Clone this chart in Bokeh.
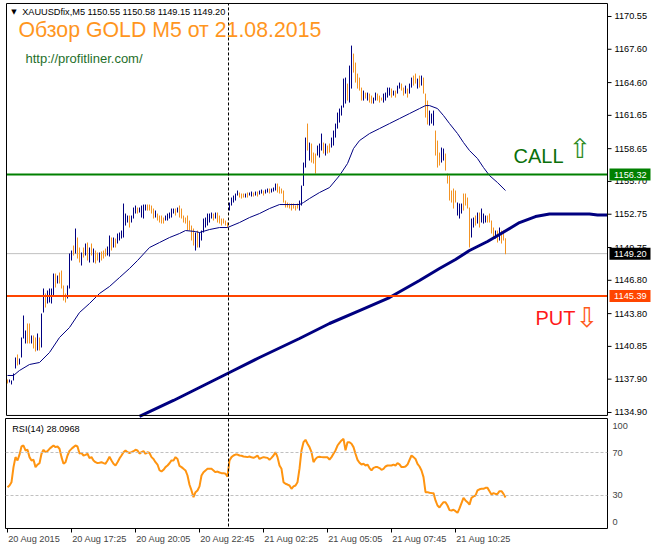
from bokeh.plotting import figure
from bokeh.models import Range1d, FixedTicker, Span, Label, ColumnDataSource
from bokeh.layouts import column
from bokeh.core.properties import value
from bokeh.embed import file_html
from bokeh.resources import INLINE

# ---------------- data ----------------
symbol = "XAUUSDfix,M5"
last_quote = [1150.55, 1150.58, 1149.15, 1149.20]  # O H L C of the last bar
chart_title = "Обзор GOLD M5 от 21.08.2015"
site_url = "http://profitliner.com/"
call_text = "CALL"
put_text = "PUT"

bar_high = [
    1137.87, 1137.87, 1137.78, 1138.41, 1139.85, 1140.12, 1139.76, 1141.65, 1143.63, 1142.28,
    1142.91, 1142.91, 1141.83, 1141.83, 1141.65, 1142.01, 1141.65, 1143.81, 1146.06, 1145.61,
    1145.88, 1146.06, 1146.06, 1147.41, 1147.41, 1147.23, 1147.50, 1147.68, 1146.33, 1145.61,
    1146.33, 1149.21, 1149.48, 1149.93, 1151.46, 1150.65, 1149.75, 1149.30, 1149.75, 1150.11,
    1150.20, 1149.75, 1150.11, 1149.66, 1149.48, 1149.30, 1149.30, 1149.39, 1149.48, 1149.66,
    1149.84, 1150.83, 1150.65, 1150.65, 1150.56, 1151.01, 1151.10, 1151.28, 1153.71, 1152.81,
    1152.63, 1152.63, 1152.63, 1153.35, 1153.53, 1153.35, 1153.35, 1153.53, 1153.62, 1153.62,
    1153.62, 1153.62, 1153.53, 1153.26, 1153.08, 1152.81, 1152.63, 1152.63, 1152.45, 1152.63,
    1152.81, 1152.90, 1153.26, 1153.26, 1153.26, 1153.35, 1153.53, 1153.26, 1152.63, 1152.45,
    1152.63, 1152.18, 1151.73, 1151.46, 1151.10, 1151.28, 1151.10, 1151.28, 1152.36, 1152.45,
    1152.81, 1152.81, 1152.90, 1152.81, 1152.90, 1152.90, 1152.63, 1152.36, 1152.36, 1152.18,
    1152.00, 1153.80, 1154.25, 1154.43, 1154.61, 1154.88, 1154.70, 1154.61, 1154.61, 1154.61,
    1154.70, 1154.70, 1154.79, 1154.70, 1154.79, 1154.79, 1154.88, 1154.97, 1154.88, 1154.97,
    1155.06, 1155.06, 1155.06, 1155.15, 1155.51, 1155.51, 1155.24, 1155.06, 1154.88, 1153.98,
    1153.80, 1153.71, 1153.71, 1153.71, 1153.53, 1153.71, 1153.98, 1155.33, 1157.40, 1159.65,
    1160.91, 1159.20, 1159.11, 1158.30, 1158.21, 1158.93, 1159.11, 1160.01, 1159.20, 1159.11,
    1158.93, 1159.11, 1159.65, 1160.28, 1160.91, 1161.90, 1162.26, 1162.53, 1164.96, 1165.05,
    1164.51, 1166.13, 1167.93, 1167.21, 1166.40, 1165.41, 1165.05, 1164.15, 1163.88, 1163.70,
    1163.70, 1163.61, 1163.43, 1163.25, 1163.70, 1163.61, 1163.43, 1163.25, 1163.61, 1163.70,
    1164.15, 1164.15, 1164.06, 1163.88, 1163.88, 1164.33, 1164.60, 1164.51, 1164.15, 1164.33,
    1164.06, 1164.51, 1165.05, 1165.23, 1165.41, 1164.96, 1165.23, 1165.23, 1165.05, 1163.61,
    1162.98, 1162.08, 1161.81, 1162.08, 1160.28, 1159.38, 1158.30, 1158.75, 1158.66, 1158.21,
    1156.41, 1156.23, 1154.88, 1155.06, 1154.88, 1153.80, 1153.71, 1153.71, 1154.61, 1154.61,
    1154.25, 1153.35, 1152.36, 1152.45, 1152.63, 1152.90, 1152.90, 1153.26, 1152.81, 1152.63,
    1152.63, 1152.81, 1152.18, 1151.55, 1151.28, 1151.28, 1151.55, 1151.28, 1151.28, 1150.58,
]
bar_low = [
    1137.51, 1137.60, 1137.42, 1137.78, 1138.86, 1139.13, 1139.22, 1139.85, 1141.56, 1141.11,
    1141.11, 1141.11, 1141.11, 1140.66, 1140.39, 1140.48, 1140.48, 1140.75, 1143.90, 1144.35,
    1144.71, 1144.80, 1144.71, 1145.43, 1146.15, 1146.51, 1146.51, 1146.06, 1144.98, 1144.80,
    1145.16, 1146.06, 1148.58, 1149.03, 1149.21, 1148.76, 1148.40, 1148.13, 1148.85, 1149.03,
    1148.58, 1148.40, 1149.03, 1148.40, 1148.31, 1148.58, 1148.40, 1148.58, 1148.76, 1148.94,
    1149.03, 1148.94, 1149.48, 1149.75, 1149.75, 1150.11, 1150.38, 1150.56, 1150.65, 1151.73,
    1152.00, 1151.55, 1152.00, 1152.36, 1152.81, 1152.81, 1152.90, 1152.45, 1152.36, 1153.08,
    1153.08, 1153.08, 1152.81, 1152.36, 1152.45, 1152.18, 1152.00, 1151.91, 1151.91, 1152.18,
    1152.18, 1152.36, 1152.45, 1152.81, 1152.63, 1152.90, 1152.45, 1152.36, 1152.00, 1151.91,
    1151.28, 1151.28, 1150.38, 1149.93, 1149.48, 1149.75, 1149.75, 1150.38, 1151.10, 1151.55,
    1151.73, 1152.00, 1152.36, 1152.18, 1152.36, 1152.00, 1151.91, 1151.73, 1151.91, 1151.73,
    1151.55, 1153.08, 1153.53, 1153.80, 1153.98, 1154.43, 1154.25, 1154.16, 1154.25, 1154.25,
    1154.25, 1154.43, 1154.34, 1154.34, 1154.43, 1154.34, 1154.52, 1154.61, 1154.43, 1154.61,
    1154.70, 1154.61, 1154.70, 1154.79, 1154.88, 1154.70, 1154.61, 1154.61, 1153.80, 1153.35,
    1153.35, 1153.26, 1153.08, 1153.26, 1153.08, 1153.26, 1153.08, 1153.53, 1155.30, 1156.95,
    1158.48, 1157.58, 1157.40, 1157.31, 1156.41, 1158.03, 1157.85, 1158.48, 1158.21, 1158.03,
    1158.21, 1158.30, 1158.75, 1158.93, 1159.65, 1160.46, 1161.00, 1161.63, 1162.35, 1162.71,
    1162.98, 1162.80, 1164.06, 1165.50, 1164.60, 1164.06, 1163.88, 1162.98, 1162.98, 1163.16,
    1162.98, 1162.80, 1162.71, 1162.71, 1162.98, 1162.98, 1162.80, 1162.98, 1162.80, 1162.98,
    1163.25, 1163.43, 1163.25, 1163.43, 1163.25, 1163.61, 1164.06, 1163.88, 1163.43, 1163.61,
    1163.25, 1163.61, 1164.15, 1164.33, 1164.51, 1164.06, 1164.15, 1164.33, 1163.61, 1161.45,
    1160.82, 1160.73, 1160.91, 1160.73, 1158.03, 1156.95, 1157.13, 1157.40, 1157.58, 1156.68,
    1155.51, 1153.98, 1153.80, 1153.26, 1153.80, 1152.63, 1152.36, 1152.81, 1153.08, 1153.53,
    1153.26, 1149.75, 1150.65, 1151.55, 1151.73, 1151.91, 1151.55, 1152.00, 1151.91, 1152.00,
    1152.00, 1152.00, 1151.01, 1150.65, 1150.56, 1150.20, 1150.38, 1150.11, 1150.38, 1149.15,
]
bar_bull = [
    0, 1, 1, 1, 1, 0, 1, 1, 1, 1,
    0, 0, 1, 0, 0, 1, 0, 1, 1, 0,
    1, 1, 1, 1, 0, 1, 0, 0, 0, 0,
    1, 1, 1, 0, 1, 0, 0, 1, 0, 1,
    0, 1, 0, 1, 0, 0, 1, 0, 0, 0,
    1, 1, 0, 1, 0, 1, 1, 1, 1, 1,
    1, 0, 1, 1, 1, 0, 1, 1, 1, 1,
    0, 0, 0, 0, 1, 0, 0, 0, 0, 1,
    1, 1, 1, 1, 0, 1, 0, 0, 0, 0,
    0, 0, 0, 0, 1, 0, 1, 1, 1, 1,
    1, 1, 1, 0, 1, 0, 0, 0, 0, 0,
    0, 1, 1, 1, 1, 1, 0, 0, 0, 1,
    0, 1, 1, 0, 1, 0, 1, 1, 0, 1,
    1, 0, 1, 1, 1, 0, 0, 0, 0, 0,
    0, 0, 0, 0, 0, 0, 1, 1, 1, 1,
    0, 1, 0, 0, 0, 1, 1, 1, 0, 1,
    0, 0, 1, 1, 1, 1, 1, 1, 1, 1,
    0, 1, 1, 0, 0, 0, 0, 0, 1, 0,
    1, 0, 0, 1, 1, 0, 0, 0, 1, 1,
    1, 1, 0, 1, 0, 1, 1, 0, 0, 1,
    0, 1, 1, 0, 0, 1, 0, 1, 0, 0,
    0, 1, 1, 1, 0, 0, 0, 1, 1, 0,
    0, 0, 0, 0, 0, 1, 1, 1, 0, 0,
    0, 0, 1, 1, 0, 1, 0, 1, 1, 1,
    0, 0, 0, 0, 1, 0, 1, 0, 0, 0,
]

# thin moving average (bar index, price)
ma_fast_index = [0, 3, 6, 11, 16, 21, 26, 31, 36, 41, 46, 51, 56, 61, 65, 71, 76, 81, 86, 89,
                 94, 96, 101, 106, 110, 116, 121, 126, 131, 136, 141, 146, 148, 151, 156, 161,
                 166, 170, 173, 176, 181, 186, 191, 196, 201, 206, 209, 211, 215, 218, 221,
                 225, 228, 231, 235, 238, 241, 245, 249]
ma_fast_price = [1138.23, 1138.23, 1138.68, 1139.22, 1139.40, 1140.30, 1141.65, 1142.55, 1143.90,
                 1144.71, 1145.61, 1146.24, 1147.05, 1147.86, 1148.58, 1149.75, 1150.20, 1150.65,
                 1151.01, 1151.28, 1151.19, 1151.10, 1151.37, 1151.55, 1151.55, 1152.00, 1152.45,
                 1152.81, 1153.26, 1153.62, 1153.62, 1153.62, 1153.80, 1154.16, 1154.70, 1155.15,
                 1156.23, 1157.31, 1158.66, 1159.38, 1160.01, 1160.46, 1160.91, 1161.36, 1161.81,
                 1162.26, 1162.53, 1162.53, 1162.26, 1161.63, 1160.91, 1160.01, 1159.20, 1158.48,
                 1157.76, 1156.95, 1156.23, 1155.60, 1154.88]

# thick (forward-shifted) moving average
ma_slow_index = [66, 83, 96, 111, 126, 146, 161, 176, 191, 206, 216, 224, 231, 240, 246,
                 256, 264, 271, 291, 295, 300]
ma_slow_price = [1134.54, 1135.98, 1137.15, 1138.50, 1139.85, 1141.56, 1142.91, 1144.08,
                 1145.25, 1146.78, 1147.86, 1148.67, 1149.48, 1150.29, 1150.92, 1152.00,
                 1152.54, 1152.77, 1152.77, 1152.68, 1152.68]

rsi_period = 14
rsi_values = [
    37.7, 39.3, 42.4, 56.4, 65.7, 62.6, 68.0, 75.6, 76.5, 71.9,
    72.5, 65.7, 62.6, 63.2, 56.4, 58.8, 60.0, 68.8, 72.5, 70.3,
    71.2, 73.4, 75.0, 76.5, 75.0, 75.6, 73.5, 65.7, 59.5, 61.0,
    67.2, 71.5, 73.4, 75.0, 76.5, 75.6, 69.0, 69.4, 67.2, 67.8,
    68.8, 64.8, 65.7, 62.6, 61.0, 60.1, 60.5, 61.0, 60.1, 59.5,
    62.6, 66.0, 62.6, 59.5, 57.9, 61.0, 64.5, 67.2, 70.3, 71.9,
    70.3, 69.5, 70.3, 71.2, 72.5, 71.9, 69.0, 70.3, 71.2, 68.8,
    70.3, 69.5, 65.7, 64.0, 61.0, 58.8, 53.5, 52.3, 53.9, 56.4,
    57.9, 60.0, 62.6, 62.6, 65.7, 64.0, 57.5, 56.4, 54.8, 53.3,
    48.6, 40.0, 34.7, 28.5, 33.1, 34.7, 38.5, 48.6, 51.7, 53.3,
    54.8, 55.0, 54.8, 53.3, 51.7, 52.3, 51.4, 50.8, 50.8, 50.2,
    47.5, 62.6, 65.7, 67.2, 68.1, 68.1, 67.2, 67.0, 66.3, 66.0,
    65.7, 66.3, 65.5, 65.0, 66.0, 67.2, 64.0, 65.0, 65.7, 65.3,
    65.0, 63.2, 65.0, 67.2, 70.3, 65.7, 57.9, 54.8, 42.4, 40.9,
    40.2, 39.3, 36.2, 38.4, 39.3, 42.4, 55.0, 71.9, 79.6, 81.8,
    78.1, 75.0, 70.3, 61.0, 64.0, 65.7, 66.0, 65.7, 65.5, 65.7,
    65.5, 63.5, 65.7, 68.8, 71.9, 76.5, 79.0, 81.2, 82.7, 72.0,
    79.6, 79.6, 78.1, 75.0, 68.8, 63.2, 60.5, 58.8, 59.5, 57.9,
    58.8, 55.5, 53.3, 55.7, 56.4, 56.4, 55.5, 53.9, 54.8, 57.0,
    57.9, 58.0, 57.9, 58.8, 57.9, 60.1, 59.0, 56.4, 56.4, 57.0,
    58.8, 63.0, 67.2, 65.7, 64.0, 59.5, 57.0, 53.3, 47.1, 33.1,
    33.1, 32.5, 32.3, 32.2, 25.4, 20.7, 18.8, 21.6, 23.8, 23.8,
    20.7, 16.4, 16.0, 16.7, 15.4, 13.9, 18.0, 22.9, 27.8, 25.4,
    23.8, 21.5, 27.8, 29.1, 30.0, 34.7, 35.8, 36.2, 36.2, 37.1,
    37.1, 34.0, 30.9, 32.2, 31.5, 31.5, 34.0, 34.0, 31.5, 28.0968,
]
rsi_levels = [70, 30]

call_level = 1156.32
put_level = 1145.39
bid_price = 1149.20
day_start_index = 111

price_ticks = [1170.55, 1167.60, 1164.60, 1161.65, 1158.65, 1155.70, 1152.75,
               1149.75, 1146.80, 1143.80, 1140.85, 1137.90, 1134.90]
price_tick_labels = ["1170.55", "1167.60", "1164.60", "1161.65", "1158.65", "1155.70", "1152.75",
                     "1149.75", "1146.80", "1143.80", "1140.85", "1137.90", "1134.90"]
time_tick_index = [0, 32, 64, 96, 128, 160, 192, 224]
time_tick_labels = ["20 Aug 2015", "20 Aug 17:25", "20 Aug 20:05", "20 Aug 22:45",
                    "21 Aug 02:25", "21 Aug 05:05", "21 Aug 07:45", "21 Aug 10:25"]
rsi_tick_labels = ["100", "70", "30", "0"]

# ---------------- styling / layout constants ----------------
NAVY = "#000080"
BAR_ORANGE = "#f39323"
RSI_ORANGE = "#ff9410"
TITLE_ORANGE = "#ff961e"
FONT = "Liberation Sans"
SMALL = "9.2px"

chart_left = -0.5        # left border of the chart area (bar units)
chart_right = 300.0      # price-axis line (bar units)
price_top = 1171.72      # top border of the price panel
price_bottom = 1134.63   # bottom border of the price panel

n = len(bar_high)
idx = list(range(n))
src = ColumnDataSource(dict(
    x=idx, hi=bar_high, lo=bar_low,
    color=[NAVY if b else BAR_ORANGE for b in bar_bull],
))

# ---------------- price panel ----------------
p1 = figure(frame_width=649, frame_height=418, min_border_left=5, min_border_right=0,
            min_border_top=0, min_border_bottom=0,
            x_range=Range1d(-1.0, 323.5), y_range=Range1d(1134.357, 1171.99),
            x_axis_location=None, y_axis_location=None,
            output_backend="svg", toolbar_location=None)
p1.grid.visible = False
p1.outline_line_color = None
p1.background_fill_color = "white"
p1.border_fill_color = "white"

# bid line behind bars
p1.segment(x0=[chart_left], y0=[bid_price], x1=[chart_right], y1=[bid_price],
           line_color="#c0c0c0", line_width=1)

p1.segment(x0="x", y0="lo", x1="x", y1="hi", line_color="color", line_width=1, source=src)
p1.line(ma_fast_index, ma_fast_price, line_color=NAVY, line_width=1)
p1.line(ma_slow_index, ma_slow_price, line_color=NAVY, line_width=3)

# CALL / PUT levels
p1.segment(x0=[chart_left, chart_left], y0=[call_level, put_level],
           x1=[chart_right, chart_right], y1=[call_level, put_level],
           line_color=["#008000", "#ff4500"], line_width=2)

# day separator
p1.segment(x0=[day_start_index - 0.5], y0=[price_bottom], x1=[day_start_index - 0.5],
           y1=[price_top], line_color="black", line_width=1, line_dash="3 2")

# frame of the price panel and its axis line
p1.segment(x0=[chart_left, chart_left, chart_left, chart_right],
           y0=[price_bottom, price_top, price_bottom, price_bottom],
           x1=[chart_left, chart_right, chart_right, chart_right],
           y1=[price_top, price_top, price_bottom, price_top],
           line_color="black", line_width=1)

# price axis: ticks and labels
p1.segment(x0=[chart_right] * len(price_ticks), y0=price_ticks,
           x1=[chart_right + 2] * len(price_ticks), y1=price_ticks,
           line_color="black", line_width=1)
p1.text(x=[chart_right + 3.5] * len(price_ticks), y=price_ticks, text=price_tick_labels,
        text_font=value(FONT), text_font_size=SMALL, text_color="black",
        text_baseline="middle", text_align="left")

# price boxes on the axis
box_levels = [call_level, bid_price, put_level]
box_colors = ["#008000", "#000000", "#ff4500"]
p1.rect(x=[chart_right + 11.25] * 3, y=box_levels, width=20.5, height=12,
        height_units="screen", fill_color=box_colors, line_color=None)
p1.text(x=[chart_right + 3.3] * 3, y=box_levels, text=["%.2f" % v for v in box_levels],
        text_font=value(FONT), text_font_size=SMALL, text_color="white",
        text_baseline="middle", text_align="left")

# header texts
p1.add_layout(Label(x=3.25, y=1170.95, text="▼", text_font="DejaVu Sans", text_font_size="7px",
                    text_color="black", text_baseline="middle", text_align="center"))
p1.add_layout(Label(x=7.35, y=1170.91,
                    text=symbol + "  " + " ".join("%.2f" % v for v in last_quote),
                    text_font=FONT, text_font_size=SMALL, text_color="black",
                    text_baseline="middle", text_align="left"))
p1.add_layout(Label(x=5.5, y=1169.32, text=chart_title, text_font=FONT, text_font_size="21.3px",
                    text_color=TITLE_ORANGE, text_baseline="middle", text_align="left"))
p1.add_layout(Label(x=9.0, y=1166.80, text=site_url, text_font=FONT, text_font_size="13px",
                    text_color="#1f6f2a", text_baseline="middle", text_align="left"))

# CALL / PUT annotations
p1.add_layout(Label(x=253.0, y=1157.96, text=call_text, text_font=FONT, text_font_size="20px",
                    text_color="#0a700a", text_baseline="middle", text_align="left"))
p1.add_layout(Label(x=286.25, y=1158.67, text="⇧", text_font="DejaVu Sans",
                    text_font_size="27px", text_color="#2e8b1e", text_baseline="middle",
                    text_align="center"))
p1.add_layout(Label(x=264.0, y=1143.38, text=put_text, text_font=FONT, text_font_size="20px",
                    text_color="#ff1a1a", text_baseline="middle", text_align="left"))
p1.add_layout(Label(x=289.75, y=1143.45, text="⇩", text_font="DejaVu Sans",
                    text_font_size="27px", text_color="#ff5a1a", text_baseline="middle",
                    text_align="center"))

# ---------------- RSI panel ----------------
p2 = figure(frame_width=602, frame_height=110, x_range=Range1d(-1.0, chart_right),
            y_range=Range1d(-0.70, 101.63), y_axis_location="right",
            output_backend="svg", toolbar_location=None,
            min_border_left=5, min_border_top=0, min_border_bottom=0, min_border_right=47)
p2.grid.visible = False
p2.outline_line_color = "black"
p2.border_fill_color = "white"

rsi_label_pos = [95.1, 70, 30, 5.8]
ra = p2.yaxis[0]
ra.ticker = FixedTicker(ticks=rsi_label_pos)
ra.major_label_overrides = {v: s for v, s in zip(rsi_label_pos, rsi_tick_labels)}
ra.axis_line_color = None
ra.major_tick_line_color = None
ra.major_tick_out = 0
ra.minor_tick_line_color = None
ra.major_label_standoff = 5
ra.major_label_text_font = FONT
ra.major_label_text_font_size = SMALL

# time labels start at their tick: axis labels are centred, so they get a
# left padding of no-break spaces (the first one is pushed in by the canvas edge)
time_label_pad = [3, 22, 22, 22, 22, 22, 22, 22]
xa = p2.xaxis[0]
xa.ticker = FixedTicker(ticks=time_tick_index)
xa.major_label_overrides = {v: "\u00a0" * k + s for v, s, k in
                            zip(time_tick_index, time_tick_labels, time_label_pad)}
xa.axis_line_color = None
xa.major_tick_in = 0
xa.major_tick_out = 4
xa.minor_tick_line_color = None
xa.major_label_standoff = 1
xa.major_label_text_font = FONT
xa.major_label_text_font_size = SMALL

for lv in rsi_levels:
    p2.add_layout(Span(location=lv, dimension="width", line_color="#c0c0c0", line_width=1,
                       line_dash="3 2"))
p2.line(idx, rsi_values, line_color=RSI_ORANGE, line_width=2)
p2.add_layout(Span(location=day_start_index - 0.5, dimension="height", line_color="black",
                   line_width=1, line_dash="3 2"))
p2.add_layout(Label(x=2.35, y=92.3, text="RSI(%d) %.4f" % (rsi_period, rsi_values[-1]),
                    text_font=FONT, text_font_size=SMALL, text_color="black",
                    text_baseline="middle", text_align="left"))

layout = column(p1, p2)
open("out.html", "w").write(file_html(layout, INLINE))
